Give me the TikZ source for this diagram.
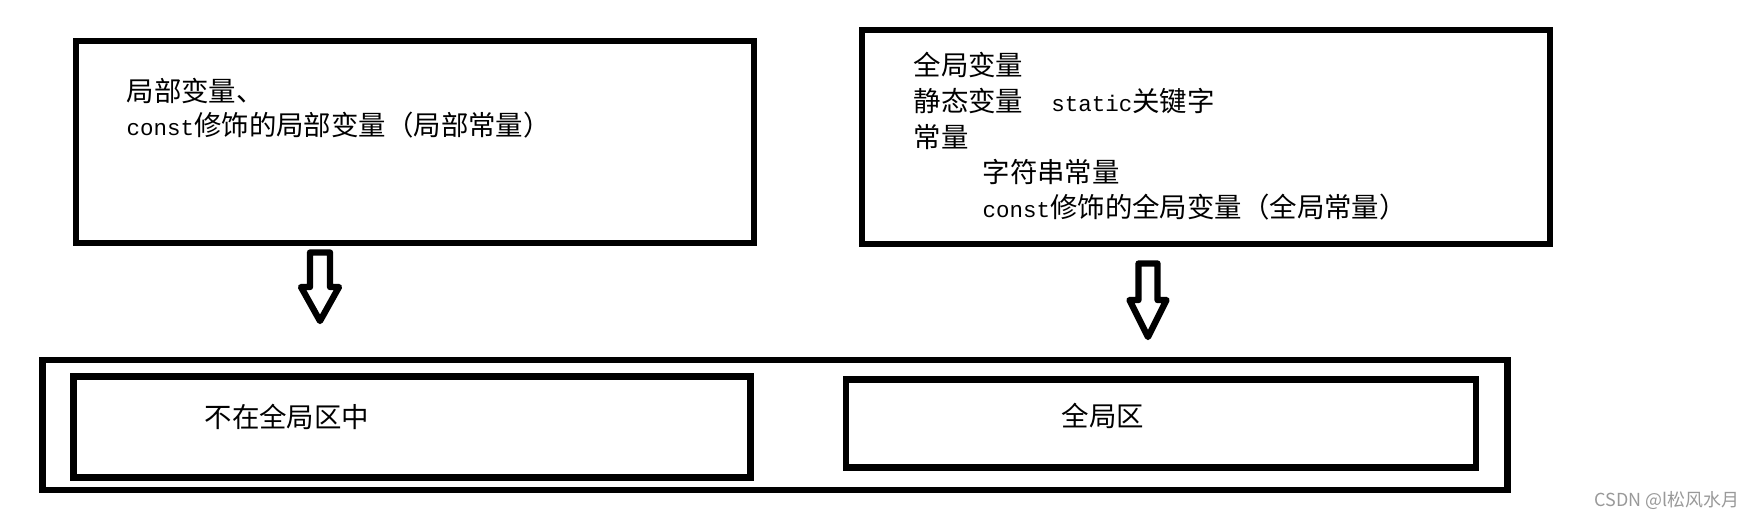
\documentclass[tikz,border=0pt]{standalone}
\usepackage{fontspec}
\setmainfont{Noto Sans CJK SC}
\setmonofont{Liberation Mono}[Scale=0.82]
\usetikzlibrary{calc}
\newcommand{\code}[1]{{\ttfamily #1}}

\begin{document}
\begin{tikzpicture}[x=0.01cm, y=-0.01cm,
    box/.style={draw, line width=1.85pt, inner sep=0pt},
    txt/.style={inner sep=0pt, anchor=base west, font=\fontsize{7.8}{10}\selectfont},
    hollow/.style={draw, line width=1.8pt, line join=round},
    watermark/.style={inner sep=0pt, anchor=base west, text=black!40, font=\fontsize{5.1}{6}\selectfont}]
  \path[use as bounding box, fill=white] (0,0) rectangle (1756,518);

  % top boxes
  \node[box, minimum width=6.78cm, minimum height=2.02cm] (localbox) at (415,142) {};
  \node[box, minimum width=6.88cm, minimum height=2.14cm] (globalbox) at (1206,137) {};

  \node[txt] (l1) at (126,101.5) {局部变量、};
  \node[txt] (l2) at ($(l1.base west)+(0,34)$) {\code{const}修饰的局部变量（局部常量）};

  \node[txt] (g1) at (913,75.5) {全局变量};
  \node[txt] (g2) at ($(g1.base west)+(0,36)$) {静态变量\hspace{0.28cm}\code{static}关键字};
  \node[txt] (g3) at ($(g2.base west)+(0,36)$) {常量};
  \node[txt] (g4) at ($(g3.base west)+(69,35)$) {字符串常量};
  \node[txt] (g5) at ($(g4.base west)+(0,35)$) {\code{const}修饰的全局变量（全局常量）};

  % bottom boxes
  \node[box, minimum width=14.64cm, minimum height=1.30cm] (memory) at (775,425) {};
  \node[box, minimum width=6.77cm, minimum height=1.01cm] (notglobal) at (412,427) {};
  \node[box, minimum width=6.30cm, minimum height=0.88cm] (globalarea) at (1161,423.5) {};

  \node[txt] (n1) at (204,427.5) {不在全局区中};
  \node[txt] (n2) at (1061,426.5) {全局区};

  % hollow arrows
  \coordinate (la) at (320,252.5);
  \coordinate (lb) at (320,321);
  \coordinate (ra) at (1148,263.5);
  \coordinate (rb) at (1148,337);
  \draw[hollow] (la) ++(-10,0) |- ($(lb)+(-19,-34)$) -- (lb) -- ($(lb)+(19,-34)$) -| ($(la)+(10,0)$) -- cycle;
  \draw[hollow] (ra) ++(-9.5,0) |- ($(rb)+(-18.5,-37)$) -- (rb) -- ($(rb)+(18.5,-37)$) -| ($(ra)+(9.5,0)$) -- cycle;

  \node[watermark] (wm) at (1594,506.5) {CSDN @l松风水月};
\end{tikzpicture}
\end{document}
